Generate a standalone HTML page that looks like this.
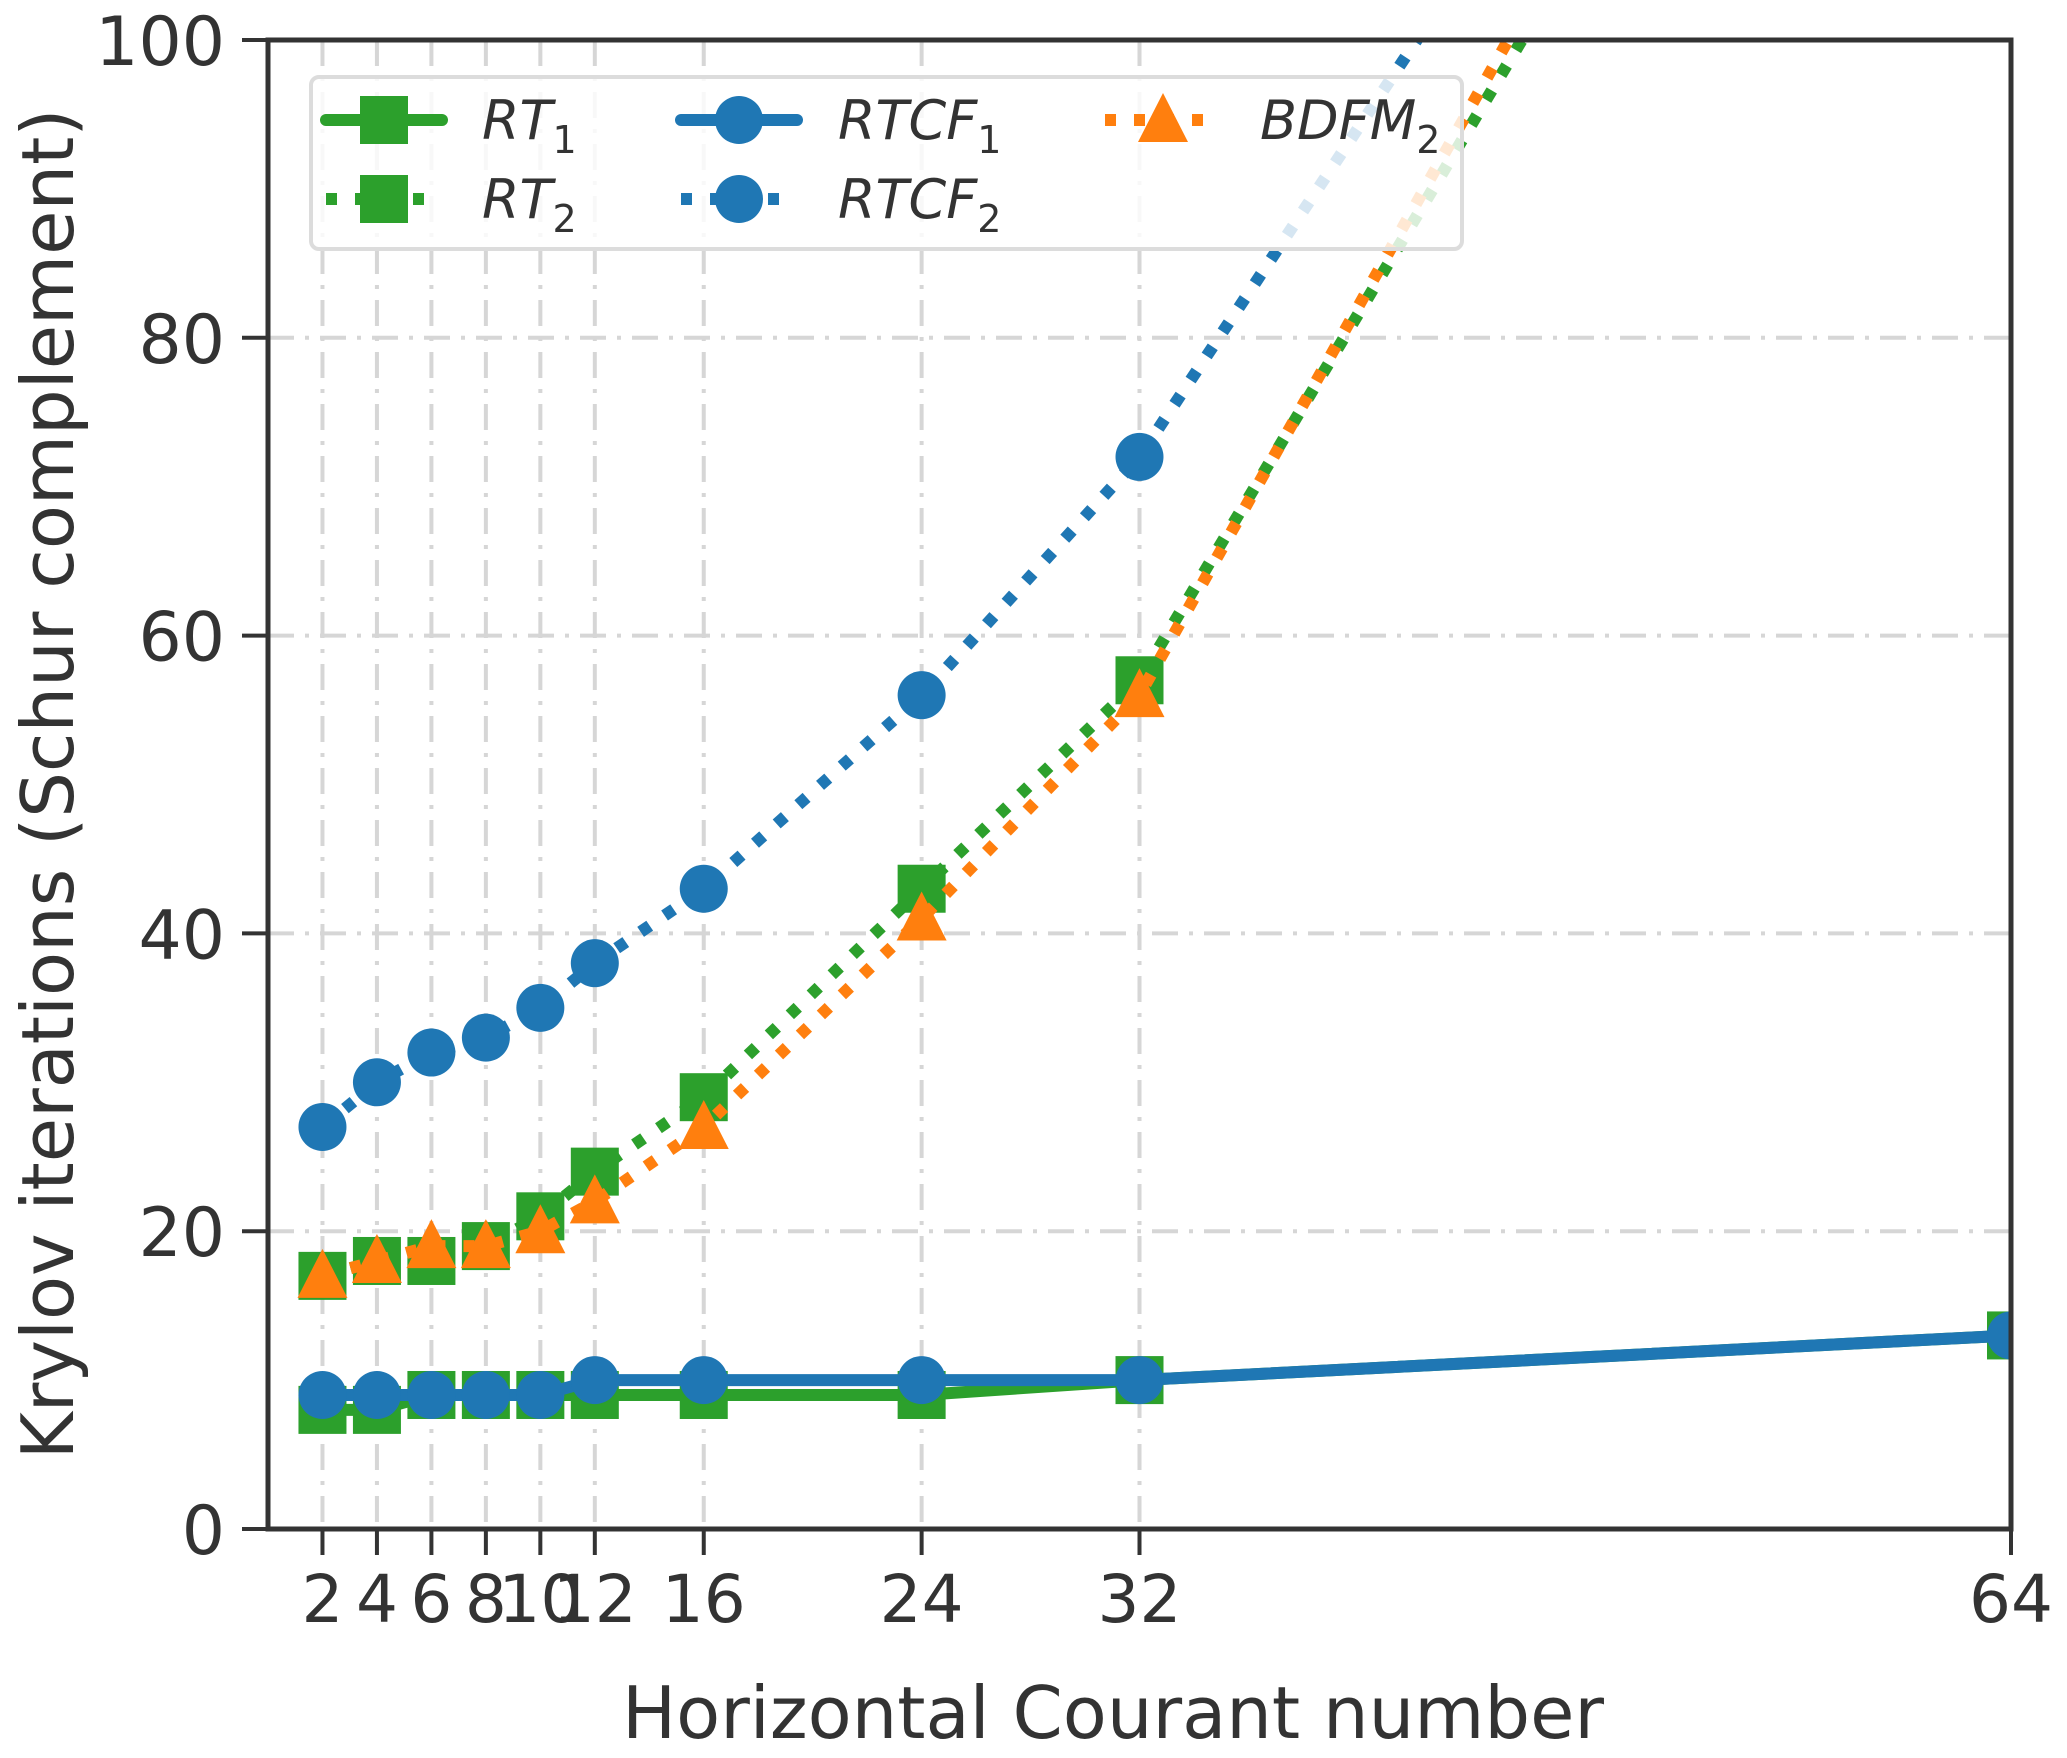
<!DOCTYPE html>
<html><head><meta charset="utf-8"><style>
html,body{margin:0;padding:0;background:#fff;}
svg{display:block;}
text{font-family:"DejaVu Sans","Liberation Sans",sans-serif;fill:#333;}
</style></head><body>
<svg id="chart" width="2067" height="1758" viewBox="0 0 2067 1758" xmlns="http://www.w3.org/2000/svg">
<defs><clipPath id="plotclip"><rect x="268" y="40" width="1743" height="1489"/></clipPath></defs>
<g id="grid"></g>
<g id="series" clip-path="url(#plotclip)"></g>
<g id="axes"></g>
<g id="legend"></g>
</svg>
<script>
const courant = [2, 4, 6, 8, 10, 12, 16, 24, 32, 64];
const rt1 = [8, 8, 9, 9, 9, 9, 9, 9, 10, 13];
const rt2 = [17, 18, 18, 19, 21, 24, 29, 43, 57, 155];
const rtcf1 = [9, 9, 9, 9, 9, 10, 10, 10, 10, 13];
const rtcf2 = [27, 30, 32, 33, 35, 38, 43, 56, 72, 160];
const bdfm2 = [17, 18, 19, 19, 20, 22, 27, 41, 56, 160];
const xTickLabels = ["2","4","6","8","10","12","16","24","32","64"];
const yTicks = [0, 20, 40, 60, 80, 100];

const NS = "http://www.w3.org/2000/svg";
const L = 268, R = 2011, T = 40, B = 1529;
const X = v => L + (v - 0) * (R - L) / 64;
const Y = v => B - v * (B - T) / 100;
function mk(tag, attrs, parent) {
  const e = document.createElementNS(NS, tag);
  for (const k in attrs) e.setAttribute(k, attrs[k]);
  parent.appendChild(e);
  return e;
}
const grid = document.getElementById('grid');
const axes = document.getElementById('axes');
const series = document.getElementById('series');
const legend = document.getElementById('legend');

courant.forEach(c => {
  const g = mk('line', {x1: X(c), x2: X(c), y1: T, y2: B, stroke: '#d6d6d6', 'stroke-width': 4, 'stroke-dasharray': '26 11 4 11'}, grid);
  
  
});
yTicks.slice(1, -1).forEach(v => {
  const g = mk('line', {x1: L, x2: R, y1: Y(v), y2: Y(v), stroke: '#d6d6d6', 'stroke-width': 4, 'stroke-dasharray': '26 11 4 11'}, grid);
  
  
});

function marker(type, x, y, color, parent) {
  let m;
  if (type === 's') m = mk('rect', {x: x - 24, y: y - 24, width: 48, height: 48, fill: color}, parent);
  else if (type === 'o') m = mk('circle', {cx: x, cy: y, r: 24, fill: color}, parent);
  else m = mk('polygon', {points: `${x},${y-27} ${x+25},${y+22} ${x-25},${y+22}`, fill: color}, parent);
  return m;
}
const defs = [
  {name: 'rt1', vals: rt1, color: '#2ca02c', mk: 's', dotted: false, label: 'RT', sub: '1'},
  {name: 'rt2', vals: rt2, color: '#2ca02c', mk: 's', dotted: true, label: 'RT', sub: '2'},
  {name: 'rtcf1', vals: rtcf1, color: '#1f77b4', mk: 'o', dotted: false, label: 'RTCF', sub: '1'},
  {name: 'rtcf2', vals: rtcf2, color: '#1f77b4', mk: 'o', dotted: true, label: 'RTCF', sub: '2'},
  {name: 'bdfm2', vals: bdfm2, color: '#ff7f0e', mk: '^', dotted: true, label: 'BDFM', sub: '2'}
];
defs.forEach(d => {
  const g = mk('g', {}, series);
  
  
  const pts = courant.map((c, i) => X(c) + ',' + Y(d.vals[i])).join(' ');
  const line = mk('polyline', {points: pts, fill: 'none', stroke: d.color, 'stroke-width': 12,
    'stroke-dasharray': d.dotted ? '11 18' : 'none', 'stroke-linecap': d.dotted ? 'butt' : 'round', 'stroke-linejoin': 'round'}, g);
  
  
  courant.forEach((c, i) => {
    const m = marker(d.mk, X(c), Y(d.vals[i]), d.color, g);
    
    
  });
});

const frame = mk('rect', {x: L, y: T, width: R - L, height: B - T, fill: 'none', stroke: '#333', 'stroke-width': 5}, axes);


yTicks.forEach(v => {
  const t = mk('line', {x1: L - 26, x2: L, y1: Y(v), y2: Y(v), stroke: '#333', 'stroke-width': 4}, axes);
  
  
  const lb = mk('text', {x: 225, y: Y(v) + 25, 'text-anchor': 'end', 'font-size': 68}, axes);
  lb.textContent = v;
  
  
});
courant.forEach((c, i) => {
  const t = mk('line', {x1: X(c), x2: X(c), y1: B, y2: B + 26, stroke: '#333', 'stroke-width': 4}, axes);
  
  
  const lb = mk('text', {x: X(c), y: 1622, 'text-anchor': 'middle', 'font-size': 66}, axes);
  lb.textContent = xTickLabels[i];
  
  
});
const xt = mk('text', {x: 1113, y: 1738, 'text-anchor': 'middle', 'font-size': 72}, axes);
xt.textContent = 'Horizontal Courant number';


const yt = mk('text', {x: 0, y: 0, 'text-anchor': 'middle', 'font-size': 72, transform: 'translate(73,784) rotate(-90)'}, axes);
yt.textContent = 'Krylov iterations (Schur complement)';



const box = mk('rect', {x: 311, y: 77, width: 1151, height: 172, rx: 8, fill: 'rgba(255,255,255,0.82)', stroke: '#dcdcdc', 'stroke-width': 4}, legend);


const pos = [[384, 120, 482], [384, 199, 482], [739, 120, 838], [739, 199, 838], [1163, 120, 1260]];
defs.forEach((d, i) => {
  const [cx, cy, tx] = pos[i];
  const g = mk('g', {}, legend);
  
  
  mk('line', {x1: cx - 58, x2: cx + 58, y1: cy, y2: cy, stroke: d.color, 'stroke-width': 12,
    'stroke-dasharray': d.dotted ? '11 18' : 'none', 'stroke-linecap': d.dotted ? 'butt' : 'round'}, g);
  marker(d.mk, cx, cy, d.color, g);
  const t = mk('text', {x: tx, y: cy + 19, 'font-size': 54, 'font-style': 'italic'}, g);
  t.textContent = d.label;
  const s = mk('tspan', {dy: 14, 'font-size': 38, 'font-style': 'normal'}, t);
  s.textContent = d.sub;
});
</script>
</body></html>
